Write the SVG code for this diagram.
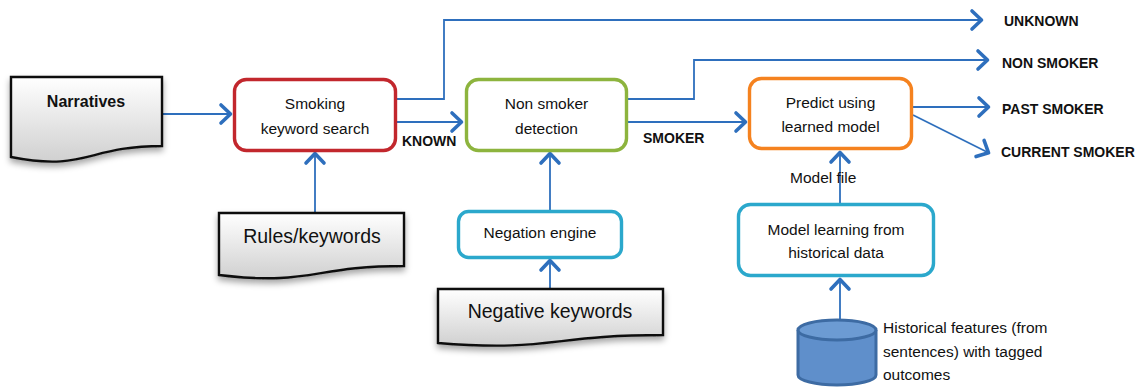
<svg xmlns="http://www.w3.org/2000/svg" width="1136" height="389" viewBox="0 0 1136 389">
<defs>
<linearGradient id="docfill" x1="0" y1="0" x2="0" y2="1">
<stop offset="0" stop-color="#ffffff"/>
<stop offset="1" stop-color="#d0d0d0"/>
</linearGradient>
<filter id="shadow" x="-10%" y="-10%" width="125%" height="140%">
<feDropShadow dx="0" dy="4" stdDeviation="3" flood-color="#000" flood-opacity="0.35"/>
</filter>
<marker id="arr" markerUnits="userSpaceOnUse" markerWidth="24" markerHeight="24" viewBox="-14 -12 18 24" refX="0" refY="0" orient="auto">
<path d="M -10 -9 L -0.5 0 L -10 9" fill="none" stroke="#2E6FBD" stroke-width="3.6" stroke-linecap="round" stroke-linejoin="round"/>
</marker>
<style>
.box{fill:#ffffff;stroke-width:3.4}
.doc{fill:url(#docfill);stroke:#111;stroke-width:2.4;filter:url(#shadow)}
.conn{fill:none;stroke:#2E6FBD;stroke-width:1.8}
.t{font-family:"Liberation Sans",Arial,sans-serif;font-size:15.5px;fill:#111;text-anchor:middle}
.lbl{font-family:"Liberation Sans",Arial,sans-serif;font-size:14px;font-weight:bold;fill:#111}
.side{font-family:"Liberation Sans",Arial,sans-serif;font-size:15.5px;fill:#111}
</style>
</defs>
<rect width="1136" height="389" fill="#ffffff"/>

<g id="connectors">
<path class="conn" d="M 162 114 H 231" marker-end="url(#arr)"/>
<path class="conn" d="M 397 99 H 444 V 20 H 982" marker-end="url(#arr)"/>
<path class="conn" d="M 397 122 H 462" marker-end="url(#arr)"/>
<path class="conn" d="M 315 213 V 153" marker-end="url(#arr)"/>
<path class="conn" d="M 628 99 H 694 V 60 H 988" marker-end="url(#arr)"/>
<path class="conn" d="M 628 122 H 746" marker-end="url(#arr)"/>
<path class="conn" d="M 550 210 V 153" marker-end="url(#arr)"/>
<path class="conn" d="M 550 289 V 260" marker-end="url(#arr)"/>
<path class="conn" d="M 913 107 H 989" marker-end="url(#arr)"/>
<path class="conn" d="M 913 115 L 989 153" marker-end="url(#arr)"/>
<path class="conn" d="M 840 203 V 152" marker-end="url(#arr)"/>
<path class="conn" d="M 840 321 V 279" marker-end="url(#arr)"/>
</g>

<g id="narratives">
<path class="doc" d="M 11 77 H 162 V 146 C 86.5 146 86.5 171.9 11 157 Z"/>
<text class="t" x="86" y="107" style="font-weight:bold;font-size:16px">Narratives</text>
</g>

<g id="smoking-keyword-search">
<rect class="box" x="234.5" y="79.5" width="161" height="71" rx="12" stroke="#C2272D"/>
<text class="t" x="315" y="109">Smoking</text>
<text class="t" x="315" y="134">keyword search</text>
</g>

<g id="rules-keywords">
<path class="doc" d="M 219 213 H 404 V 266 C 311.5 266 311.5 286 219 275 Z"/>
<text class="t" x="312" y="243" style="font-size:19.5px">Rules/keywords</text>
</g>

<g id="non-smoker-detection">
<rect class="box" x="466.5" y="79.5" width="160" height="71" rx="12" stroke="#8DB43E"/>
<text class="t" x="546.5" y="109">Non smoker</text>
<text class="t" x="546.5" y="134">detection</text>
</g>

<g id="negation-engine">
<rect class="box" x="458.5" y="211.5" width="163" height="46" rx="10" stroke="#2BA8CC"/>
<text class="t" x="540" y="238">Negation engine</text>
</g>

<g id="negative-keywords">
<path class="doc" d="M 438 289 H 663 V 335 C 550.5 335 550.5 352 438 343 Z"/>
<text class="t" x="550" y="318" style="font-size:19.5px">Negative keywords</text>
</g>

<g id="predict">
<rect class="box" x="749.5" y="78.5" width="162" height="70" rx="12" stroke="#F5821F"/>
<text class="t" x="830.5" y="108">Predict using</text>
<text class="t" x="830.5" y="132">learned model</text>
</g>

<g id="model-learning">
<rect class="box" x="738.5" y="204.5" width="195" height="71" rx="12" stroke="#2BA8CC"/>
<text class="t" x="836" y="235">Model learning from</text>
<text class="t" x="836" y="258">historical data</text>
</g>

<g id="historical-db">
<path d="M 798 330 V 375 A 39 10 0 0 0 876 375 V 330" fill="#5F8FCB" stroke="#3D6BA3" stroke-width="3"/>
<ellipse cx="837" cy="330" rx="39" ry="10" fill="#6C9BD3" stroke="#3D6BA3" stroke-width="3"/>
<text class="side" x="883" y="333">Historical features (from</text>
<text class="side" x="883" y="357">sentences) with tagged</text>
<text class="side" x="883" y="380">outcomes</text>
</g>

<g id="labels">
<text class="lbl" x="402" y="146">KNOWN</text>
<text class="lbl" x="643" y="143">SMOKER</text>
<text class="side" x="790" y="183">Model file</text>
<text class="lbl" x="1004" y="26">UNKNOWN</text>
<text class="lbl" x="1002" y="68">NON SMOKER</text>
<text class="lbl" x="1002" y="114">PAST SMOKER</text>
<text class="lbl" x="1001" y="157">CURRENT SMOKER</text>
</g>
</svg>
